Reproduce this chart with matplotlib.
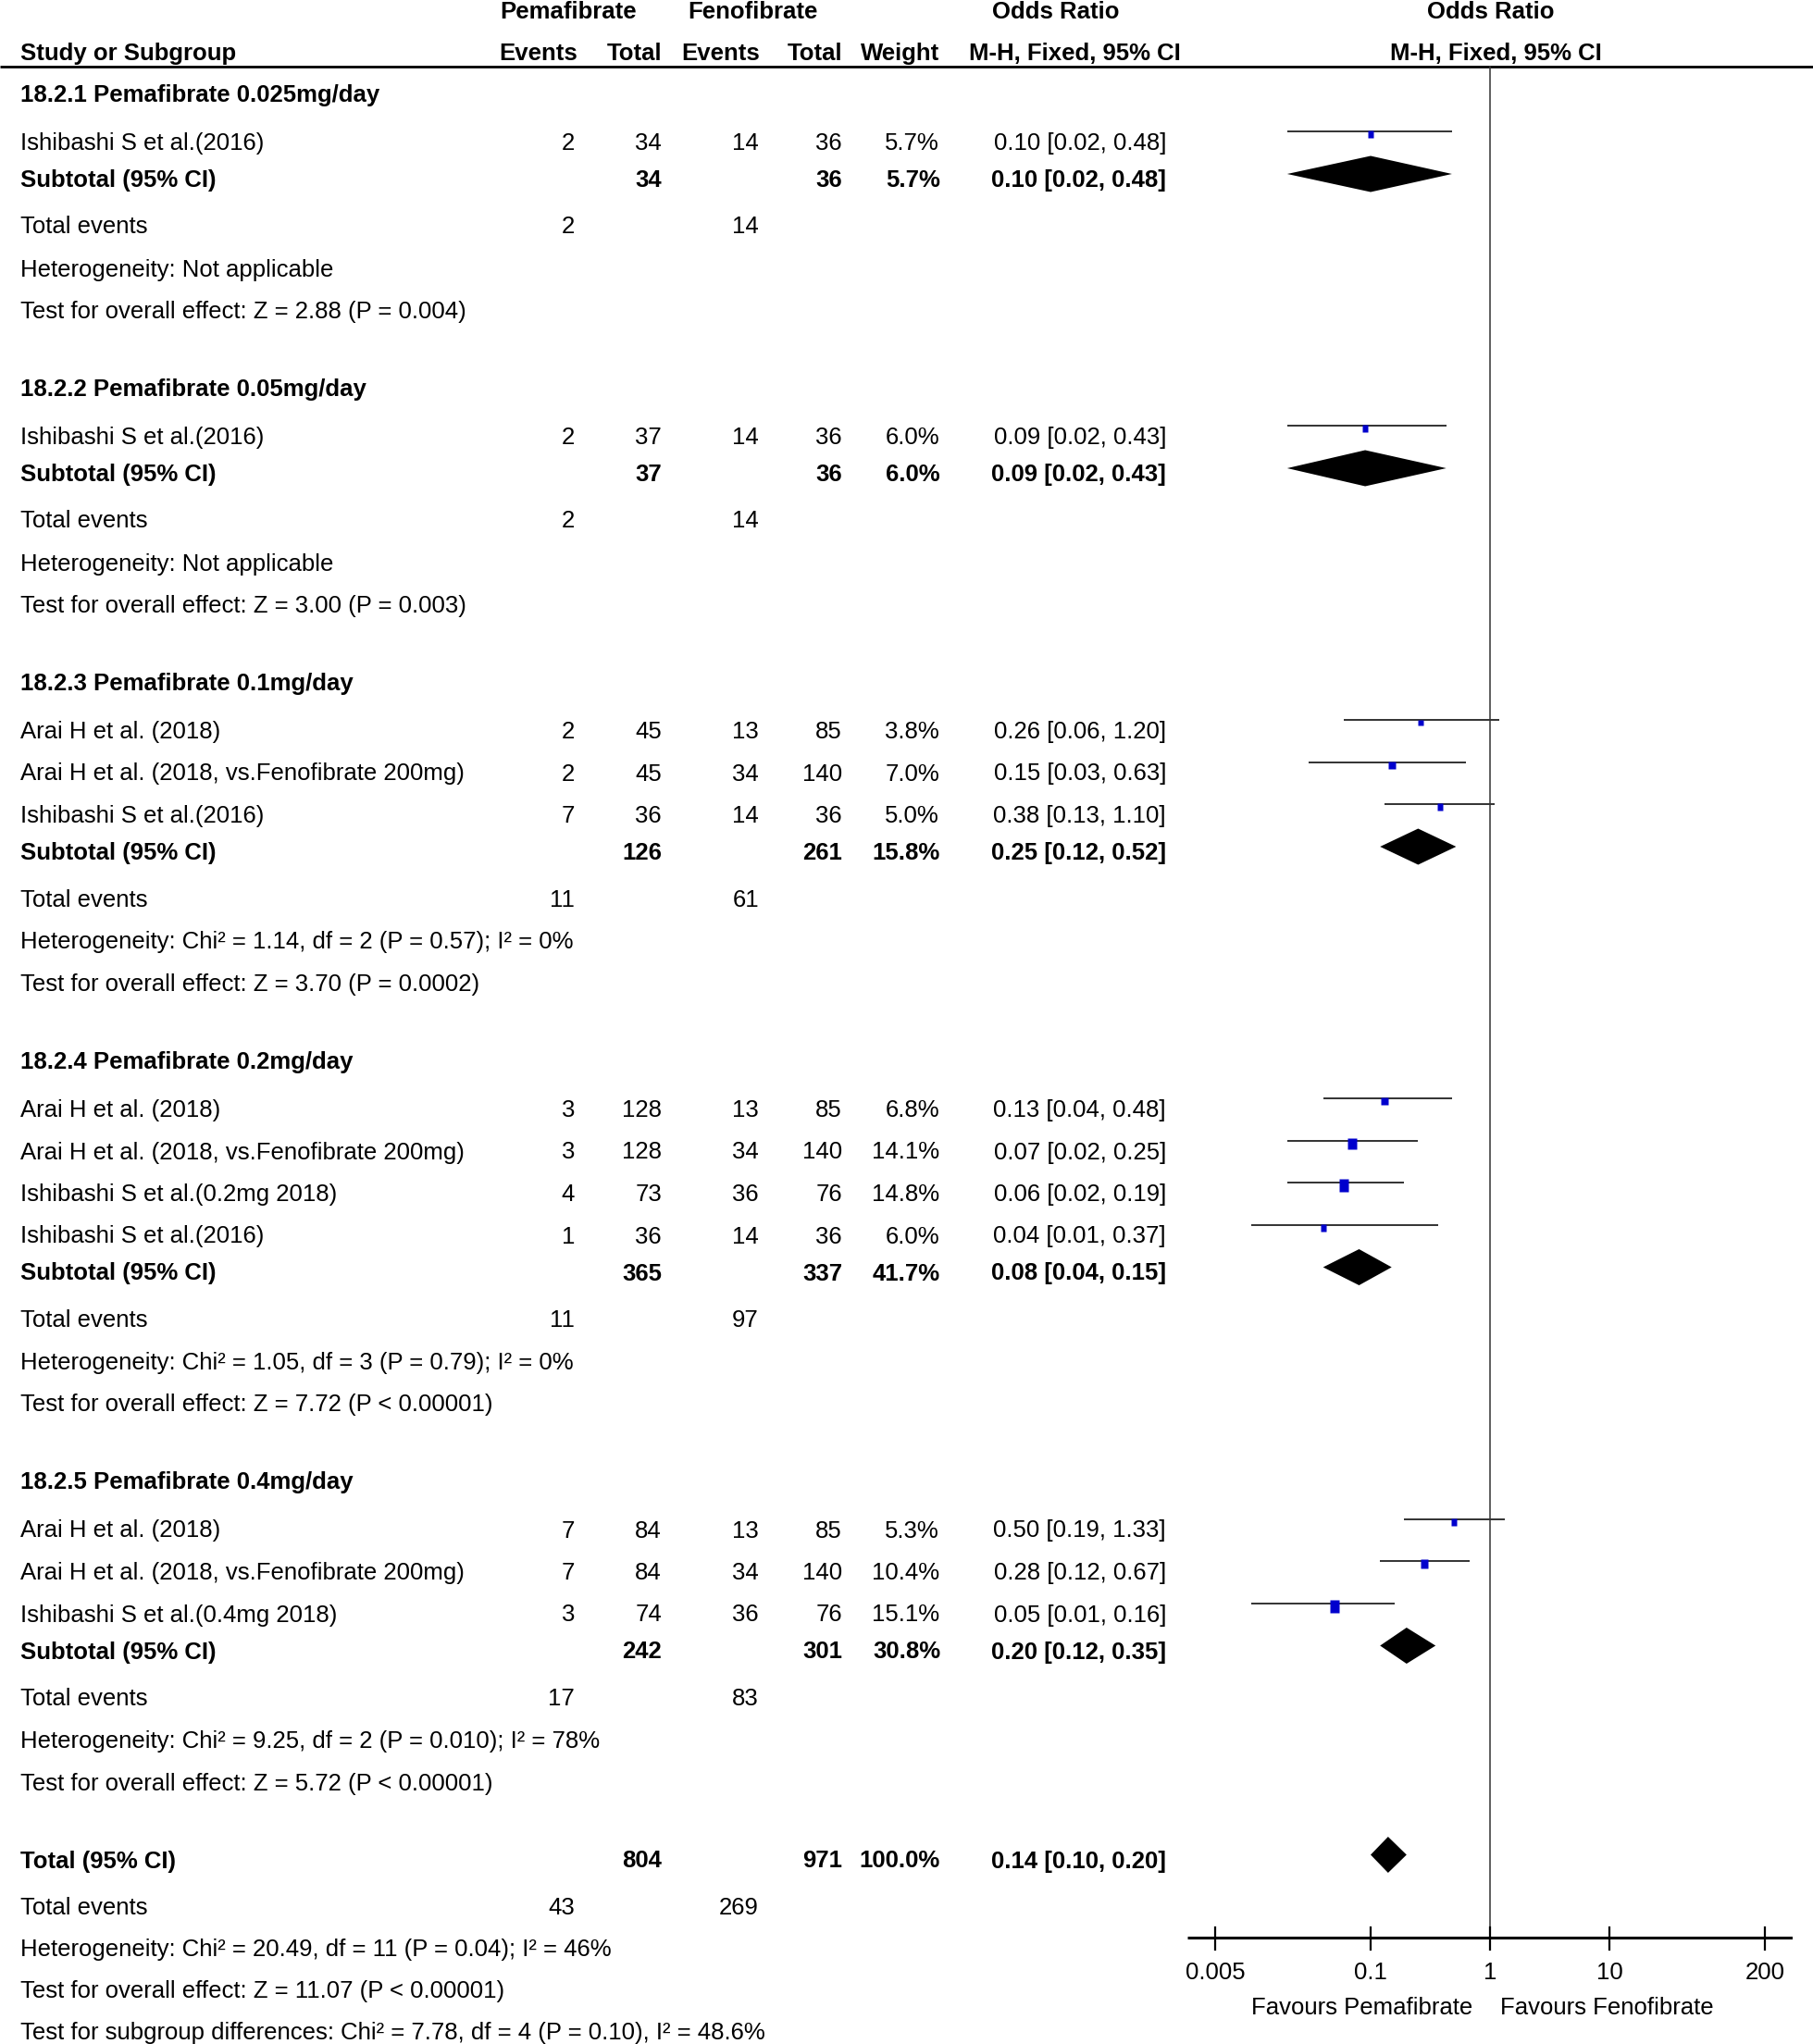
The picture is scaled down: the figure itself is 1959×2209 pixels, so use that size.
import numpy as np
import matplotlib.pyplot as plt
from matplotlib.path import Path

plt.rcParams['font.family'] = ['Liberation Sans', 'DejaVu Sans']

# study level data
groups = ['18.2.1 Pemafibrate 0.025mg/day', '18.2.2 Pemafibrate 0.05mg/day',
          '18.2.3 Pemafibrate 0.1mg/day', '18.2.4 Pemafibrate 0.2mg/day',
          '18.2.5 Pemafibrate 0.4mg/day']
study_group = [0, 1, 2, 2, 2, 3, 3, 3, 3, 4, 4, 4]
study_names = ['Ishibashi S et al.(2016)',
               'Ishibashi S et al.(2016)',
               'Arai H et al. (2018)', 'Arai H et al. (2018, vs.Fenofibrate 200mg)', 'Ishibashi S et al.(2016)',
               'Arai H et al. (2018)', 'Arai H et al. (2018, vs.Fenofibrate 200mg)',
               'Ishibashi S et al.(0.2mg 2018)', 'Ishibashi S et al.(2016)',
               'Arai H et al. (2018)', 'Arai H et al. (2018, vs.Fenofibrate 200mg)',
               'Ishibashi S et al.(0.4mg 2018)']
pema_events = [2, 2, 2, 2, 7, 3, 3, 4, 1, 7, 7, 3]
pema_total = [34, 37, 45, 45, 36, 128, 128, 73, 36, 84, 84, 74]
feno_events = [14, 14, 13, 34, 14, 13, 34, 36, 14, 13, 34, 36]
feno_total = [36, 36, 85, 140, 36, 85, 140, 76, 36, 85, 140, 76]
weights = [5.7, 6.0, 3.8, 7.0, 5.0, 6.8, 14.1, 14.8, 6.0, 5.3, 10.4, 15.1]
or_est = [0.10, 0.09, 0.26, 0.15, 0.38, 0.13, 0.07, 0.06, 0.04, 0.50, 0.28, 0.05]
or_lo = [0.02, 0.02, 0.06, 0.03, 0.13, 0.04, 0.02, 0.02, 0.01, 0.19, 0.12, 0.01]
or_hi = [0.48, 0.43, 1.20, 0.63, 1.10, 0.48, 0.25, 0.19, 0.37, 1.33, 0.67, 0.16]

# subgroup totals
sub_pema_total = [34, 37, 126, 365, 242]
sub_feno_total = [36, 36, 261, 337, 301]
sub_weight = [5.7, 6.0, 15.8, 41.7, 30.8]
sub_or = [0.10, 0.09, 0.25, 0.08, 0.20]
sub_lo = [0.02, 0.02, 0.12, 0.04, 0.12]
sub_hi = [0.48, 0.43, 0.52, 0.15, 0.35]
sub_pema_events = [2, 2, 11, 11, 17]
sub_feno_events = [14, 14, 61, 97, 83]
sub_het = ['Heterogeneity: Not applicable',
           'Heterogeneity: Not applicable',
           'Heterogeneity: Chi² = 1.14, df = 2 (P = 0.57); I² = 0%',
           'Heterogeneity: Chi² = 1.05, df = 3 (P = 0.79); I² = 0%',
           'Heterogeneity: Chi² = 9.25, df = 2 (P = 0.010); I² = 78%']
sub_test = ['Test for overall effect: Z = 2.88 (P = 0.004)',
            'Test for overall effect: Z = 3.00 (P = 0.003)',
            'Test for overall effect: Z = 3.70 (P = 0.0002)',
            'Test for overall effect: Z = 7.72 (P < 0.00001)',
            'Test for overall effect: Z = 5.72 (P < 0.00001)']

# overall
tot_pema_total, tot_feno_total, tot_weight = 804, 971, 100.0
tot_or, tot_lo, tot_hi = 0.14, 0.10, 0.20
tot_pema_events, tot_feno_events = 43, 269
tot_het = 'Heterogeneity: Chi² = 20.49, df = 11 (P = 0.04); I² = 46%'
tot_test = 'Test for overall effect: Z = 11.07 (P < 0.00001)'
tot_sub = 'Test for subgroup differences: Chi² = 7.78, df = 4 (P = 0.10), I² = 48.6%'

tick_vals = [0.005, 0.1, 1, 10, 200]
tick_labels = ['0.005', '0.1', '1', '10', '200']

W, H = 1959, 2209
fig = plt.figure(figsize=(W / 100, H / 100), dpi=100)
ax = fig.add_axes([0, 0, 1, 1])
ax.set_xlim(0, W)
ax.set_ylim(H, 0)
ax.axis('off')

x0, x1 = 1283, 1937
lim = 10 ** 2.535
ax2 = fig.add_axes([x0 / W, 0, (x1 - x0) / W, 1])
ax2.set_xscale('log')
ax2.set_xlim(1 / lim, lim)
ax2.set_ylim(H, 0)
ax2.axis('off')
ax2.patch.set_alpha(0)

fs = 18.5
LX, C_PE, C_PT, C_FE, C_FT, C_W, C_OR = 22, 621, 715, 820, 910, 1015, 1260


def txt(x, y, s, ha='left', bold=False):
    ax.text(x, y + 9, s, ha=ha, va='baseline', fontsize=fs,
            fontweight='bold' if bold else 'normal')


def ci(o, l, h):
    return f'{o:.2f} [{l:.2f}, {h:.2f}]'


def diamond(y, o, l, h, ht=39):
    yc = y - 5
    ax2.fill([l, o, h, o], [yc, yc - ht / 2, yc, yc + ht / 2], color='black', lw=0)


# header
txt(614, 11, 'Pemafibrate', ha='center', bold=True)
txt(813, 11, 'Fenofibrate', ha='center', bold=True)
txt(1141, 11, 'Odds Ratio', ha='center', bold=True)
txt(1611, 11, 'Odds Ratio', ha='center', bold=True)
txt(LX, 56, 'Study or Subgroup', bold=True)
txt(624, 56, 'Events', ha='right', bold=True)
txt(C_PT, 56, 'Total', ha='right', bold=True)
txt(C_FE + 1, 56, 'Events', ha='right', bold=True)
txt(C_FT, 56, 'Total', ha='right', bold=True)
txt(C_W, 56, 'Weight', ha='right', bold=True)
txt(1161, 56, 'M-H, Fixed, 95% CI', ha='center', bold=True)
txt(1616, 56, 'M-H, Fixed, 95% CI', ha='center', bold=True)
ax.plot([0, W], [72, 72], color='black', lw=2.0, solid_capstyle='butt')

y = 101
for g, gname in enumerate(groups):
    txt(LX, y, gname, bold=True)
    y += 52
    idx = [i for i, sg in enumerate(study_group) if sg == g]
    for k, i in enumerate(idx):
        if k > 0:
            y += 45.5
        txt(LX, y, study_names[i])
        txt(C_PE, y, str(pema_events[i]), ha='right')
        txt(C_PT, y, str(pema_total[i]), ha='right')
        txt(C_FE, y, str(feno_events[i]), ha='right')
        txt(C_FT, y, str(feno_total[i]), ha='right')
        txt(C_W, y, f'{weights[i]:.1f}%', ha='right')
        txt(C_OR, y, ci(or_est[i], or_lo[i], or_hi[i]), ha='right')
        ax2.plot([or_lo[i], or_hi[i]], [y - 11, y - 11], color='#222222', lw=1.3,
                 solid_capstyle='butt')
        sw = 2.7 * np.sqrt(weights[i])
        sh = 3.4 * np.sqrt(weights[i])
        rect = Path([(-sw / 2, -sh / 2), (sw / 2, -sh / 2), (sw / 2, sh / 2),
                     (-sw / 2, sh / 2), (-sw / 2, -sh / 2)], closed=True)
        ax2.plot([or_est[i]], [y - 8], marker=rect, ms=sh * 0.72, color='#0000CD',
                 mec='none', ls='none')
    y += 40
    txt(LX, y, 'Subtotal (95% CI)', bold=True)
    txt(C_PT, y, str(sub_pema_total[g]), ha='right', bold=True)
    txt(C_FT, y, str(sub_feno_total[g]), ha='right', bold=True)
    txt(C_W + 1, y, f'{sub_weight[g]:.1f}%', ha='right', bold=True)
    txt(C_OR, y, ci(sub_or[g], sub_lo[g], sub_hi[g]), ha='right', bold=True)
    diamond(y, sub_or[g], sub_lo[g], sub_hi[g])
    y += 50.5
    txt(LX, y, 'Total events')
    txt(C_PE, y, str(sub_pema_events[g]), ha='right')
    txt(C_FE, y, str(sub_feno_events[g]), ha='right')
    y += 46
    txt(LX, y, sub_het[g])
    y += 45.5
    txt(LX, y, sub_test[g])
    y += 84

# overall
txt(LX, y, 'Total (95% CI)', bold=True)
txt(C_PT, y, str(tot_pema_total), ha='right', bold=True)
txt(C_FT, y, str(tot_feno_total), ha='right', bold=True)
txt(C_W + 1, y, f'{tot_weight:.1f}%', ha='right', bold=True)
txt(C_OR, y, ci(tot_or, tot_lo, tot_hi), ha='right', bold=True)
diamond(y, tot_or, tot_lo, tot_hi)
y += 50.5
txt(LX, y, 'Total events')
txt(C_PE, y, str(tot_pema_events), ha='right')
txt(C_FE, y, str(tot_feno_events), ha='right')
y += 45
txt(LX, y, tot_het)
y += 45
txt(LX, y, tot_test)
y += 45
txt(LX, y, tot_sub)

# forest axis
axis_y = 2094
ax2.plot([1, 1], [72, axis_y], color='#333333', lw=1.1)
ax2.plot([1 / lim, lim], [axis_y, axis_y], color='black', lw=2.2, solid_capstyle='butt')
for tv, tl in zip(tick_vals, tick_labels):
    ax2.plot([tv, tv], [axis_y - 11, axis_y + 13], color='black', lw=1.6)
    ax2.text(tv, 2130 + 9, tl, ha='center', va='baseline', fontsize=fs)
txt(1591, 2168, 'Favours Pemafibrate', ha='right')
txt(1621, 2168, 'Favours Fenofibrate')

fig.savefig('out.png', dpi=100, facecolor='white')
